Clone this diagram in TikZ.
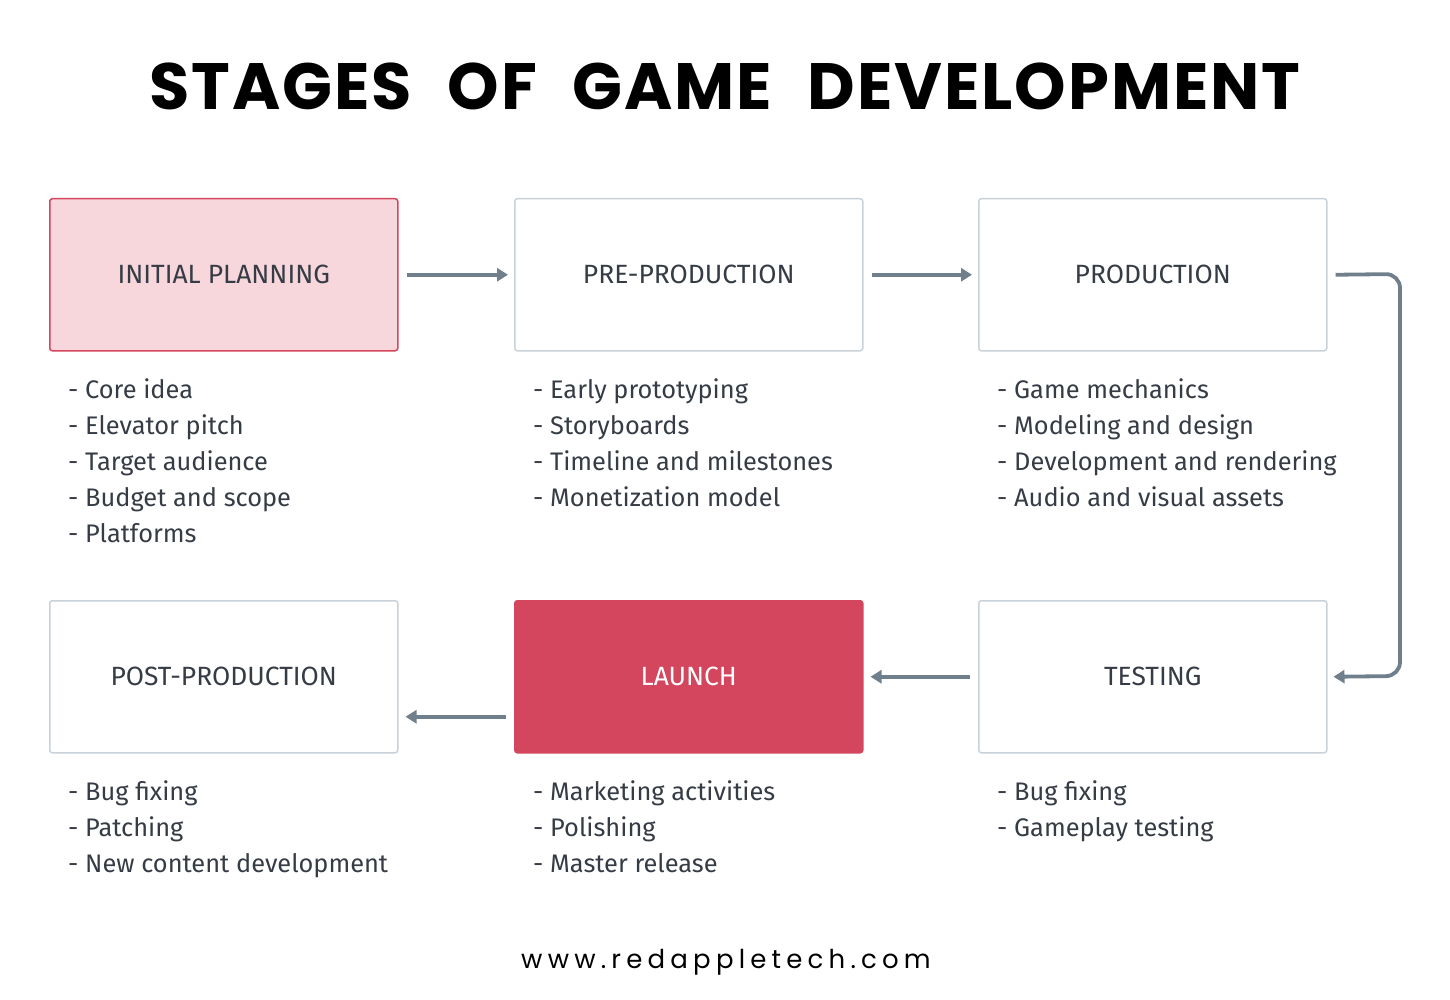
\documentclass[tikz,border=0pt]{standalone}
\usepackage{fontspec}
\setmainfont{Fira Sans}
\newfontfamily\titlefont[LetterSpace=3]{Poppins Bold}
\newfontfamily\urlfont[LetterSpace=20]{Poppins}
\usetikzlibrary{arrows.meta,positioning}
\definecolor{bordergray}{HTML}{C9D1D9}
\definecolor{arrowgray}{HTML}{6F7F8C}
\definecolor{textdark}{HTML}{363C45}
\definecolor{pinkfill}{HTML}{F7D6DC}
\definecolor{redmain}{HTML}{D4465D}
\tikzset{
  stage/.style={draw=bordergray, line width=1.5pt, rounded corners=2.5pt, fill=white,
    minimum width=348pt, minimum height=152pt, inner sep=0pt, anchor=north west,
    text=textdark, font=\fontsize{26.4}{30}\selectfont},
  flow/.style={draw=arrowgray, line width=3.8pt, -{Triangle[length=11pt,width=13pt]}},
  items/.style={anchor=north west, align=left, text=textdark, inner sep=0pt,
    font=\fontsize{25.4}{36}\selectfont}
}
\begin{document}
\begin{tikzpicture}[x=1pt,y=-1pt]
\useasboundingbox (0,0) rectangle (1450,1000);
\node (title) at (725,86) {\titlefont\fontsize{65.5}{74}\selectfont STAGES\hspace{0.3em} OF\hspace{0.3em} GAME\hspace{0.3em} DEVELOPMENT};

\node[stage, draw=redmain, fill=pinkfill] (s1) at (49,198) {INITIAL PLANNING};
\node[stage] (s2) at (514,198) {PRE-PRODUCTION};
\node[stage] (s3) at (978,198) {PRODUCTION};
\node[stage] (s6) at (49,600) {POST-PRODUCTION};
\node[stage, draw=redmain, fill=redmain, text=white] (s5) at (514,600) {LAUNCH};
\node[stage] (s4) at (978,600) {TESTING};

\node[items] (l1) at (68,378) {- Core idea\\- Elevator pitch\\- Target audience\\- Budget and scope\\- Platforms};
\node[items] (l2) at (533,378) {- Early prototyping\\- Storyboards\\- Timeline and milestones\\- Monetization model};
\node[items] (l3) at (997,378) {- Game mechanics\\- Modeling and design\\- Development and rendering\\- Audio and visual assets};
\node[items] (l6) at (68,780) {- Bug fixing\\- Patching\\- New content development};
\node[items] (l5) at (533,780) {- Marketing activities\\- Polishing\\- Master release};
\node[items] (l4) at (997,780) {- Bug fixing\\- Gameplay testing};

\draw[flow] ([xshift=8pt]s1.east) -- ([xshift=-6pt]s2.west);
\draw[flow] ([xshift=8pt]s2.east) -- ([xshift=-6pt]s3.west);
\coordinate (c1) at (1400,274);
\coordinate (c2) at (1400,676);
\draw[flow, rounded corners=14pt] ([xshift=8pt]s3.east) -- (c1) -- (c2) -- ([xshift=6pt]s4.east);
\draw[flow] ([xshift=-8pt]s4.west) -- ([xshift=7pt]s5.east);
\draw[flow] ([xshift=-8pt,yshift=-40pt]s5.west) -- ([xshift=7pt,yshift=-40pt]s6.east);

\node (url) at (726,962) {\urlfont\fontsize{26}{30}\selectfont www.redappletech.com};
\end{tikzpicture}
\end{document}
